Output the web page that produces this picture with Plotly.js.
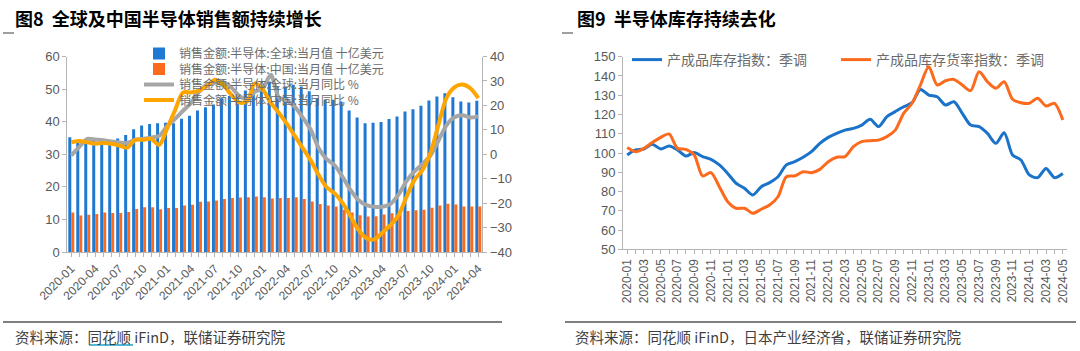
<!DOCTYPE html>
<html>
<head>
<meta charset="utf-8">
<script src="https://cdn.plot.ly/plotly-3.0.1.min.js"></script>
<style>
html,body{margin:0;padding:0;background:#fff;}
#chart{width:1080px;height:351px;}
</style>
</head>
<body>
<div id="chart"></div>
<script>
// ---------- Data: Figure 8 ----------
const months8 = ["2020-01","2020-02","2020-03","2020-04","2020-05","2020-06","2020-07","2020-08","2020-09","2020-10","2020-11","2020-12",
"2021-01","2021-02","2021-03","2021-04","2021-05","2021-06","2021-07","2021-08","2021-09","2021-10","2021-11","2021-12",
"2022-01","2022-02","2022-03","2022-04","2022-05","2022-06","2022-07","2022-08","2022-09","2022-10","2022-11","2022-12",
"2023-01","2023-02","2023-03","2023-04","2023-05","2023-06","2023-07","2023-08","2023-09","2023-10","2023-11","2023-12",
"2024-01","2024-02","2024-03","2024-04"];
const tickLabels8 = ["2020-01","2020-04","2020-07","2020-10","2021-01","2021-04","2021-07","2021-10","2022-01","2022-04","2022-07","2022-10","2023-01","2023-04","2023-07","2023-10","2024-01","2024-04"];
const salesGlobal = [35.2,34.2,34.6,34.4,34.4,34.4,34.8,35.9,37.7,38.8,39.3,39.5,
39.7,39.5,40.9,41.8,43.4,44.4,45.3,47.2,47.9,48.9,49.6,50.2,
50.6,52.3,50.8,50.8,51.3,50.8,49.3,47.2,46.7,46.7,46.2,43.4,
41.3,39.5,39.7,39.9,40.8,41.6,43.1,43.8,44.9,46.5,47.7,48.7,
47.5,46.2,45.9,46.4];
const salesChina = [12.1,11.2,11.4,11.7,12.1,12.0,12.0,12.3,13.2,13.7,13.7,13.1,
13.5,13.5,14.3,14.5,15.4,15.5,15.8,16.3,16.6,16.7,16.8,17.0,
16.8,16.4,16.6,16.6,16.8,16.3,15.5,14.7,14.3,14.0,13.0,12.1,
11.3,10.9,11.0,11.5,11.9,12.3,12.6,12.8,13.0,13.6,14.3,14.8,
14.6,14.0,14.0,14.0];
const yoyGlobal = [-0.5,3.0,6.3,6.0,5.7,5.2,4.8,4.6,5.9,6.3,6.8,7.5,
11.5,14.5,17.8,21.0,25.5,28.5,29.3,29.5,27.5,24.0,22.5,25.5,
27.0,32.5,23.3,21.9,19.5,15.0,10.0,2.5,-2.0,-4.5,-9.3,-14.7,
-18.8,-20.8,-21.5,-21.5,-20.3,-16.5,-11.0,-7.0,-4.0,-0.5,5.5,11.8,
15.1,16.0,15.0,15.5];
const yoyChina = [4.9,5.4,4.9,4.3,4.6,4.3,3.6,2.7,5.9,5.9,6.3,3.8,
10.5,18.0,25.3,25.3,26.0,28.0,30.5,28.5,24.5,21.2,21.5,29.0,
26.5,21.0,17.0,12.5,7.5,2.5,-2.5,-8.5,-13.5,-16.0,-20.0,-25.5,
-31.0,-34.4,-34.8,-32.0,-29.0,-25.0,-17.5,-10.5,-6.5,0.5,12.0,23.0,
27.4,28.5,27.0,23.0];
const names8 = ["销售金额:半导体:全球:当月值 十亿美元","销售金额:半导体:中国:当月值 十亿美元","销售金额:半导体:全球:当月同比 %","销售金额:半导体:中国:当月同比 %"];

// ---------- Data: Figure 9 ----------
const months9 = ["2020-01","2020-02","2020-03","2020-04","2020-05","2020-06","2020-07","2020-08","2020-09","2020-10","2020-11","2020-12",
"2021-01","2021-02","2021-03","2021-04","2021-05","2021-06","2021-07","2021-08","2021-09","2021-10","2021-11","2021-12",
"2022-01","2022-02","2022-03","2022-04","2022-05","2022-06","2022-07","2022-08","2022-09","2022-10","2022-11","2022-12",
"2023-01","2023-02","2023-03","2023-04","2023-05","2023-06","2023-07","2023-08","2023-09","2023-10","2023-11","2023-12",
"2024-01","2024-02","2024-03","2024-04","2024-05"];
const tickLabels9 = ["2020-01","2020-03","2020-05","2020-07","2020-09","2020-11","2021-01","2021-03","2021-05","2021-07","2021-09","2021-11",
"2022-01","2022-03","2022-05","2022-07","2022-09","2022-11","2023-01","2023-03","2023-05","2023-07","2023-09","2023-11","2024-01","2024-03","2024-05"];
const inventoryIdx = [99.0,101.6,102.1,104.5,102.1,103.6,101.6,98.4,100.2,98.1,96.7,93.8,
89.4,84.3,81.7,78.2,82.5,84.6,87.7,93.8,95.5,97.8,100.7,105.0,
108.1,110.2,111.9,112.8,114.5,117.5,113.7,118.9,121.5,124.0,126.1,133.0,
130.1,129.2,124.9,126.6,120.6,114.5,113.7,110.2,105.0,110.5,99.0,96.4,
88.6,87.2,92.0,87.2,89.4];
const inventoryRatio = [102.8,100.7,102.4,105.4,108.1,109.9,102.4,101.9,99.0,88.1,89.8,82.5,
74.7,71.3,71.3,68.7,70.8,73.0,77.3,87.7,88.1,90.3,89.8,91.5,
95.5,97.8,98.1,103.3,105.9,106.4,106.7,108.5,111.9,120.6,125.8,135.3,
144.8,135.3,137.5,138.2,135.3,132.4,142.2,137.0,133.6,137.0,127.9,126.1,
125.8,128.4,124.4,125.8,117.1];
const names9 = ["产成品库存指数：季调","产成品库存货率指数：季调"];

// ---------- Styling helpers ----------
const W = 1080, H = 351;
const px = v => v / W;
const py = v => 1 - v / H;
const CJK = "Noto Sans CJK SC, sans-serif";
const NUM = "Liberation Sans, Arial, sans-serif";
const axisGrey = "#b4b4b4";
const tickGrey = "#595959";

const tt8 = months8.map(m => tickLabels8.includes(m) ? m : "");
const tt9 = months9.map(m => tickLabels9.includes(m) ? m : "");

const traces = [
  {type:"bar", x:months8, y:salesGlobal, name:names8[0], marker:{color:"#1f78d1"}, xaxis:"x", yaxis:"y", legend:"legend"},
  {type:"bar", x:months8, y:salesChina, name:names8[1], marker:{color:"#fb6a1d"}, xaxis:"x", yaxis:"y", legend:"legend2"},
  {type:"scatter", mode:"lines", x:months8, y:yoyGlobal, name:names8[2], line:{color:"#a6a6a6", width:4, shape:"spline", smoothing:0.8}, xaxis:"x", yaxis:"y2", legend:"legend3"},
  {type:"scatter", mode:"lines", x:months8, y:yoyChina, name:names8[3], line:{color:"#ffa500", width:4, shape:"spline", smoothing:0.8}, xaxis:"x", yaxis:"y2", legend:"legend4"},
  {type:"scatter", mode:"lines", x:months9, y:inventoryIdx, name:names9[0], line:{color:"#1a73c9", width:3, shape:"spline", smoothing:0.8}, xaxis:"x2", yaxis:"y3", legend:"legend5"},
  {type:"scatter", mode:"lines", x:months9, y:inventoryRatio, name:names9[1], line:{color:"#fb6a1d", width:3, shape:"spline", smoothing:0.8}, xaxis:"x2", yaxis:"y3", legend:"legend6"}
];

function leg(x, y, size) {
  return {x:px(x), y:py(y), xanchor:"left", yanchor:"middle", bgcolor:"rgba(0,0,0,0)",
          font:{family:CJK, size:size, color:"#6b6b6b"}, itemwidth:30, borderwidth:0};
}

const baseY = {showgrid:false, zeroline:false, showline:true, linecolor:axisGrey, linewidth:1,
               ticks:"outside", ticklen:4, tickcolor:axisGrey, tickfont:{family:NUM, size:13, color:tickGrey}, fixedrange:true};

const layout = {
  width:W, height:H, margin:{l:0,r:0,t:0,b:0}, paper_bgcolor:"#fff", plot_bgcolor:"rgba(0,0,0,0)",
  showlegend:true, barmode:"group", bargap:0.25, bargroupgap:0,
  xaxis:{domain:[px(67.3), px(482.3)], anchor:"y", type:"category", range:[-0.5, 51.5],
         tickmode:"array", tickvals:months8, ticktext:tt8, tickangle:-45,
         showgrid:false, zeroline:false, showline:true, linecolor:axisGrey, linewidth:1,
         ticks:"outside", ticklen:4, tickcolor:axisGrey, tickfont:{family:NUM, size:12, color:tickGrey}},
  yaxis:Object.assign({}, baseY, {domain:[py(252), py(56.5)], anchor:"x", range:[0,60], dtick:10}),
  yaxis2:Object.assign({}, baseY, {overlaying:"y", side:"right", anchor:"x", range:[-40,40], dtick:10}),
  xaxis2:{domain:[px(623), px(1067)], anchor:"y3", type:"category", range:[-0.5, 52.5],
         tickmode:"array", tickvals:months9, ticktext:tt9, tickangle:-90,
         showgrid:false, zeroline:false, showline:true, linecolor:axisGrey, linewidth:1,
         ticks:"outside", ticklen:4, tickcolor:axisGrey, tickfont:{family:NUM, size:12, color:tickGrey}},
  yaxis3:Object.assign({}, baseY, {domain:[py(249.3), py(56.7)], anchor:"x2", range:[50,150], dtick:10}),
  legend:leg(139, 53.5, 12),
  legend2:leg(139, 69, 12),
  legend3:leg(139, 84.5, 12),
  legend4:leg(139, 100, 12),
  legend5:leg(627, 60, 14),
  legend6:leg(836, 60, 14),
  annotations:[
    {xref:"paper", yref:"paper", x:px(13), y:py(17.5), xanchor:"left", yanchor:"middle", showarrow:false,
     text:"<b>图8\u00a0\u00a0全球及中国半导体销售额持续增长</b>", font:{family:CJK, size:18, color:"#000"}},
    {xref:"paper", yref:"paper", x:px(575), y:py(17.5), xanchor:"left", yanchor:"middle", showarrow:false,
     text:"<b>图9\u00a0\u00a0半导体库存持续去化</b>", font:{family:CJK, size:18, color:"#000"}},
    {xref:"paper", yref:"paper", x:px(13), y:py(336), xanchor:"left", yanchor:"middle", showarrow:false,
     text:"资料来源：同花顺 iFinD，联储证券研究院", font:{family:CJK, size:14.5, color:"#3f3f3f"}},
    {xref:"paper", yref:"paper", x:px(573), y:py(336), xanchor:"left", yanchor:"middle", showarrow:false,
     text:"资料来源：同花顺 iFinD，日本产业经济省，联储证券研究院", font:{family:CJK, size:14.5, color:"#3f3f3f"}}
  ],
  shapes:[
    {type:"line", xref:"paper", yref:"paper", x0:px(3), x1:px(14), y0:py(33), y1:py(33), line:{color:"#7f7f7f", width:1.5}},
    {type:"line", xref:"paper", yref:"paper", x0:px(562), x1:px(573), y0:py(33), y1:py(33), line:{color:"#7f7f7f", width:1.5}},
    {type:"line", xref:"paper", yref:"paper", x0:px(3), x1:px(502), y0:py(322), y1:py(322), line:{color:"#7f7f7f", width:2}},
    {type:"line", xref:"paper", yref:"paper", x0:px(565), x1:px(1076), y0:py(322), y1:py(322), line:{color:"#7f7f7f", width:2}},
    {type:"line", xref:"paper", yref:"paper", x0:px(89), x1:px(133), y0:py(345), y1:py(345), line:{color:"#1aa3c9", width:1.5}}
  ]
};

Plotly.newPlot("chart", traces, layout, {displayModeBar:false, staticPlot:true});
</script>
</body>
</html>
